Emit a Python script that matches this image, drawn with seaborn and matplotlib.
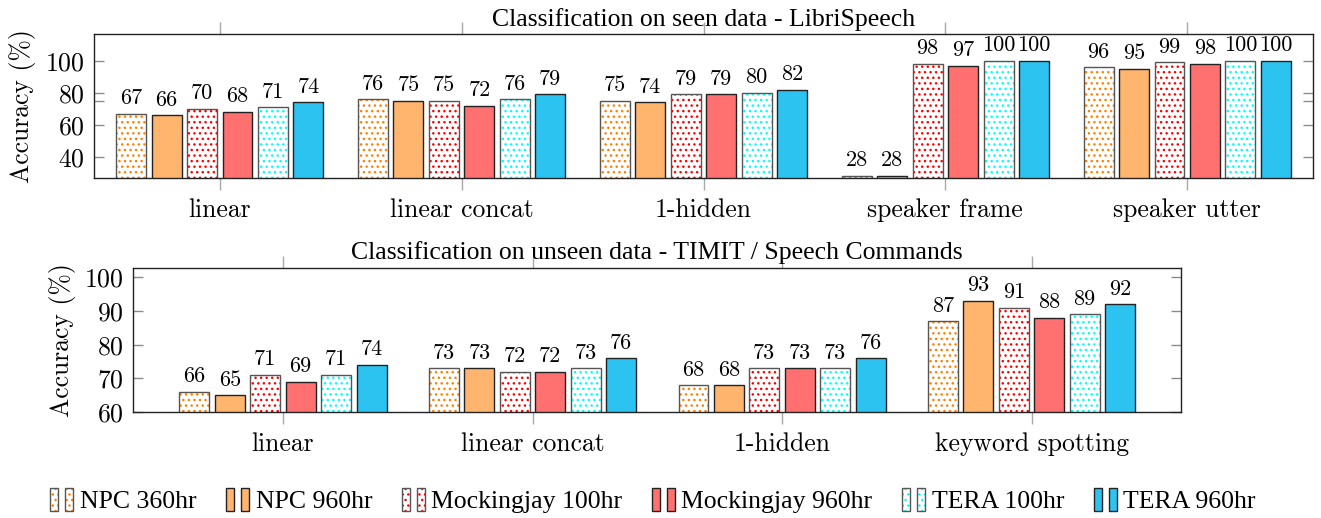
import numpy as np
import pandas as pd
import matplotlib
matplotlib.use("Agg")
import matplotlib.pyplot as plt
import seaborn as sns
from matplotlib.patches import Rectangle, Patch
from matplotlib.legend_handler import HandlerBase

# ---------------- data ----------------
models = ["NPC 360hr", "NPC 960hr", "Mockingjay 100hr", "Mockingjay 960hr",
          "TERA 100hr", "TERA 960hr"]

seen_tasks = ["linear", "linear concat", "1-hidden", "speaker frame", "speaker utter"]
seen_npc360 = [67, 76, 75, 28, 96]
seen_npc960 = [66, 75, 74, 28, 95]
seen_mj100 = [70, 75, 79, 98, 99]
seen_mj960 = [68, 72, 79, 97, 98]
seen_tera100 = [71, 76, 80, 100, 100]
seen_tera960 = [74, 79, 82, 100, 100]

unseen_tasks = ["linear", "linear concat", "1-hidden", "keyword spotting"]
unseen_npc360 = [66, 73, 68, 87]
unseen_npc960 = [65, 73, 68, 93]
unseen_mj100 = [71, 72, 73, 91]
unseen_mj960 = [69, 72, 73, 88]
unseen_tera100 = [71, 73, 73, 89]
unseen_tera960 = [74, 76, 76, 92]

seen_title = "Classification on seen data - LibriSpeech"
unseen_title = "Classification on unseen data - TIMIT / Speech Commands"
ylabel = "Accuracy (%)"

# ---------------- style ----------------
face_colors = ["white", "#FFB56E", "white", "#FF7070", "white", "#2CC3F0"]
dot_colors = ["#FF8000", None, "#FF0000", None, "#00FFFF", None]
outline_colors = ["#555555", "#222222", "#555555", "#222222", "#555555", "#222222"]
HATCH = "..."

plt.rcParams["hatch.linewidth"] = 1.0
plt.rcParams["axes.formatter.use_mathtext"] = True
CM = "cmr10"
SERIF = "Liberation Serif"
FS = 18.5
LFS = 16

W, H = 1321, 518
fig = plt.figure(figsize=(W / 100, H / 100), dpi=100)


def long_df(tasks, series):
    rows = []
    for m, vals in zip(models, series):
        for t, v in zip(tasks, vals):
            rows.append({"task": t, "model": m, "acc": v})
    return pd.DataFrame(rows)


def panel(rect, tasks, series, width, xlim, ylim, yticks, minor, title):
    ax = fig.add_axes(rect)
    df = long_df(tasks, series)
    sns.barplot(data=df, x="task", y="acc", hue="model", order=tasks,
                hue_order=models, palette=dict(zip(models, face_colors)),
                saturation=1, width=width, gap=0.155, errorbar=None,
                legend=False, linewidth=1.0, edgecolor="#222222", ax=ax)
    for i, cont in enumerate(ax.containers):
        for p in cont.patches:
            if dot_colors[i] is not None:
                p.set_hatch(HATCH)
                p.set_edgecolor(dot_colors[i])
                p.set_linewidth(0)
                ax.add_patch(Rectangle((p.get_x(), p.get_y()), p.get_width(),
                                       p.get_height(), fill=False,
                                       edgecolor=outline_colors[i], lw=1.0,
                                       zorder=p.get_zorder() + 0.1))
            else:
                p.set_edgecolor(outline_colors[i])
        ax.bar_label(cont, fmt="%.0f", padding=4, fontsize=LFS, family=CM)
    ax.set_xlim(*xlim)
    ax.set_ylim(*ylim)
    ax.set_yticks(yticks)
    if minor:
        ax.set_yticks(minor, minor=True)
    ax.set_xlabel("")
    ax.set_ylabel(ylabel, fontsize=FS, family=CM, labelpad=6)
    ax.tick_params(axis="y", which="both", direction="in", left=True, right=True,
                   length=7.5, width=1.0, color="#8c8c8c", labelsize=FS, pad=7)
    ax.tick_params(axis="x", direction="out", top=True, bottom=True,
                   length=8.5, width=1.0, color="#a8a8a8", labelsize=FS, pad=6)
    for lab in ax.get_xticklabels() + ax.get_yticklabels():
        lab.set_family(CM)
    for s in ax.spines.values():
        s.set_linewidth(1.0)
        s.set_color("#222222")
    ax.annotate(title, xy=(0.5, 1.0), xycoords="axes fraction",
                xytext=(0, 6), textcoords="offset points", ha="center",
                va="baseline", fontsize=FS, family=SERIF)
    return ax


ax1 = panel([94 / W, 1 - 178.3 / H, 1219 / W, 144.3 / H], seen_tasks,
            [seen_npc360, seen_npc960, seen_mj100, seen_mj960, seen_tera100, seen_tera960],
            0.88, (-0.52, 4.52), (26.5, 116.7), [40, 60, 80, 100], [75], seen_title)
ax2 = panel([133.3 / W, 1 - 412 / H, 1048 / W, 144.3 / H], unseen_tasks,
            [unseen_npc360, unseen_npc960, unseen_mj100, unseen_mj960, unseen_tera100, unseen_tera960],
            0.852, (-0.6, 3.6), (60, 102.85), [60, 70, 80, 90, 100], None, unseen_title)


class PairHandler(HandlerBase):
    def create_artists(self, legend, orig_handle, xdescent, ydescent, width,
                       height, fontsize, trans):
        i = models.index(orig_handle.get_label())
        bw = width * 0.34
        h = height * 1.3
        y0 = -ydescent - (h - height) / 2
        arts = []
        for x0 in (-xdescent, -xdescent + width - bw):
            if dot_colors[i] is not None:
                r = Rectangle((x0, y0), bw, h, facecolor=face_colors[i],
                              edgecolor=dot_colors[i], hatch=HATCH, lw=0,
                              transform=trans)
            else:
                r = Rectangle((x0, y0), bw, h, facecolor=face_colors[i],
                              lw=0, transform=trans)
            o = Rectangle((x0, y0), bw, h, fill=False,
                          edgecolor=outline_colors[i], lw=1.0, transform=trans)
            arts += [r, o]
        return arts


handles = [Patch(facecolor=face_colors[i], label=m) for i, m in enumerate(models)]
fig.legend(handles=handles, labels=models, loc="center",
           bbox_to_anchor=(653 / W, 1 - 502 / H), ncol=6, frameon=False,
           handler_map={Patch: PairHandler()}, handlelength=0.9,
           handletextpad=0.25, columnspacing=1.15,
           prop={"family": SERIF, "size": FS})

fig.savefig("out.png", dpi=100)
